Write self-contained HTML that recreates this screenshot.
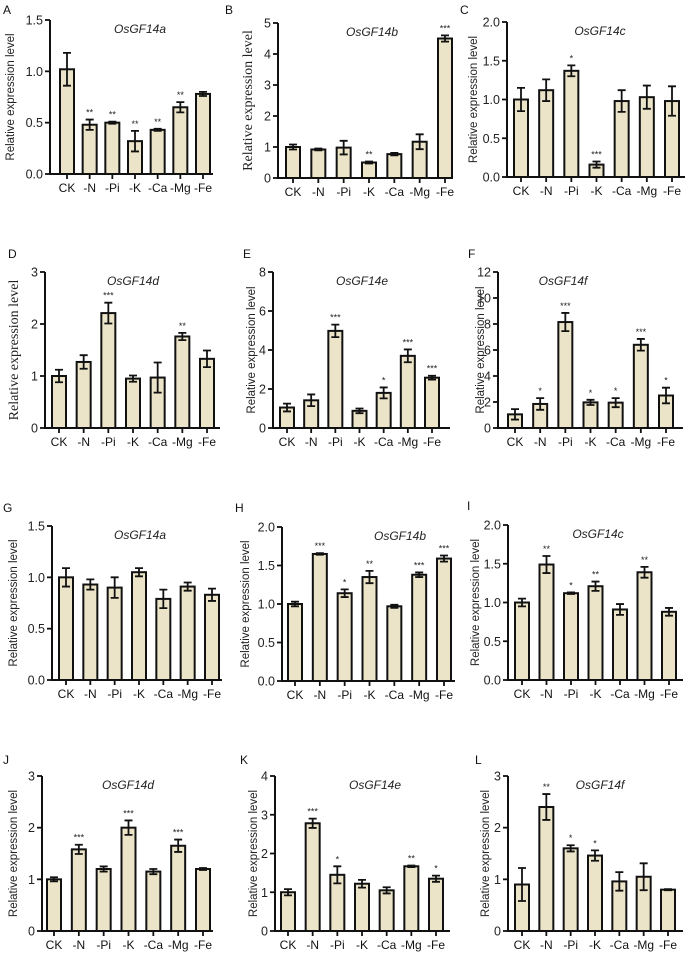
<!DOCTYPE html>
<html><head><meta charset="utf-8">
<style>
html,body{margin:0;padding:0;background:#fff;}
svg{display:block;}
</style></head>
<body>
<svg id="fig" width="685" height="958" viewBox="0 0 685 958" xmlns="http://www.w3.org/2000/svg"></svg>
<script>
const categories = ["CK","-N","-Pi","-K","-Ca","-Mg","-Fe"];
const panelLetters = ["A","B","C","D","E","F","G","H","I","J","K","L"];
const panelTitles = ["OsGF14a","OsGF14b","OsGF14c","OsGF14d","OsGF14e","OsGF14f","OsGF14a","OsGF14b","OsGF14c","OsGF14d","OsGF14e","OsGF14f"];
const valuesA = [1.02,0.48,0.50,0.32,0.43,0.65,0.78];
const errorsA = [0.16,0.05,0.01,0.10,0.01,0.05,0.02];
const sigA = ["","**","**","**","**","**",""];
const valuesB = [1.0,0.92,0.98,0.50,0.77,1.17,4.5];
const errorsB = [0.08,0.03,0.22,0.03,0.04,0.24,0.10];
const sigB = ["","","","**","","","***"];
const valuesC = [1.0,1.12,1.37,0.16,0.98,1.03,0.98];
const errorsC = [0.15,0.14,0.07,0.04,0.14,0.15,0.19];
const sigC = ["","","*","***","","",""];
const valuesD = [1.0,1.27,2.21,0.95,0.97,1.76,1.33];
const errorsD = [0.12,0.13,0.20,0.06,0.29,0.07,0.16];
const sigD = ["","","***","","","**",""];
const valuesE = [1.05,1.42,4.98,0.88,1.8,3.7,2.58];
const errorsE = [0.2,0.3,0.32,0.12,0.28,0.33,0.1];
const sigE = ["","","***","","*","***","***"];
const valuesF = [1.05,1.85,8.15,1.97,1.95,6.4,2.5];
const errorsF = [0.4,0.45,0.7,0.2,0.35,0.45,0.6];
const sigF = ["","*","***","*","*","***","*"];
const valuesG = [1.0,0.93,0.9,1.05,0.79,0.91,0.83];
const errorsG = [0.09,0.05,0.1,0.04,0.09,0.04,0.06];
const sigG = ["","","","","","",""];
const valuesH = [1.0,1.65,1.14,1.35,0.97,1.38,1.59];
const errorsH = [0.03,0.01,0.05,0.08,0.02,0.03,0.04];
const sigH = ["","***","*","**","","***","***"];
const valuesI = [1.0,1.49,1.12,1.21,0.91,1.39,0.88];
const errorsI = [0.05,0.11,0.01,0.06,0.07,0.07,0.05];
const sigI = ["","**","*","**","","**",""];
const valuesJ = [1.0,1.58,1.2,2.0,1.15,1.65,1.2];
const errorsJ = [0.04,0.09,0.05,0.14,0.05,0.12,0.02];
const sigJ = ["","***","","***","","***",""];
const valuesK = [1.0,2.78,1.45,1.22,1.05,1.67,1.35];
const errorsK = [0.08,0.12,0.22,0.1,0.08,0.02,0.08];
const sigK = ["","***","*","","","**","*"];
const valuesL = [0.9,2.4,1.6,1.46,0.96,1.05,0.8];
const errorsL = [0.32,0.25,0.06,0.1,0.18,0.26,0.01];
const sigL = ["","**","*","*","","",""];
const tickA = ["0.0","0.5","1.0","1.5"];
const tickB = ["0","1","2","3","4","5"];
const tickC = ["0.0","0.5","1.0","1.5","2.0"];
const tickD = ["0","1","2","3"];
const tickE = ["0","2","4","6","8"];
const tickF = ["0","2","4","6","8","10","12"];
const tickG = ["0.0","0.5","1.0","1.5"];
const tickH = ["0.0","0.5","1.0","1.5","2.0"];
const tickI = ["0.0","0.5","1.0","1.5","2.0"];
const tickJ = ["0","1","2","3"];
const tickK = ["0","1","2","3","4"];
const tickL = ["0","1","2","3"];

const allValues=[valuesA,valuesB,valuesC,valuesD,valuesE,valuesF,valuesG,valuesH,valuesI,valuesJ,valuesK,valuesL];
const allErrors=[errorsA,errorsB,errorsC,errorsD,errorsE,errorsF,errorsG,errorsH,errorsI,errorsJ,errorsK,errorsL];
const allSig=[sigA,sigB,sigC,sigD,sigE,sigF,sigG,sigH,sigI,sigJ,sigK,sigL];
const allTicks=[tickA,tickB,tickC,tickD,tickE,tickF,tickG,tickH,tickI,tickJ,tickK,tickL];

// layout: axisX, top, bottom, firstCenter, lastCenter, endX, ylabelX, serif, letterX, letterY, titleX
const layout=[
 [50,20,174,67,203,213,10,false,3,14,140],
 [278,23,178,293,445,453,248,true,225,14,372],
 [507,22,177,521,672,685,473,false,460,14,600],
 [45,272,428,59,207,220,14,true,8,258,133],
 [273,272,428,287,432,450,251,false,243,258,362],
 [498,272,428,515,666,683,480,false,468,258,563],
 [52,526,680,66,212,222,13,false,3,512,140],
 [282,527,681,295,444,455,245,false,235,512,400],
 [508,525,680,522,669,683,475,false,467,510,598],
 [42,776,931,54,203,213,13,false,3,764,128],
 [275,776,931,288,436,450,253,false,240,764,375],
 [508,776,931,522,668,683,485,false,475,764,600]
];
const NS="http://www.w3.org/2000/svg";
const svg=document.getElementById('fig');
function mk(tag,attrs,parent){const e=document.createElementNS(NS,tag);for(const k in attrs)e.setAttribute(k,attrs[k]);(parent||svg).appendChild(e);return e;}
const SANS='"Liberation Sans", sans-serif', SERIF='"Liberation Serif", serif';

for(let p=0;p<12;p++){
  const [ax,top,bot,c0,c6,endX,ylx,serif,lx,ly,tx]=layout[p];
  const ticks=allTicks[p];
  const ymax=parseFloat(ticks[ticks.length-1]);
  const y=v=>bot-(v/ymax)*(bot-top);
  const step=(c6-c0)/(categories.length-1);
  const x=i=>c0+i*step;
  const g=mk('g',{});
  
  
  const letter=mk('text',{x:lx,y:ly,'font-family':SANS,'font-size':12,fill:'#111'},g);
  letter.textContent=panelLetters[p];
  
  
  const title=mk('text',{x:tx,y:top+13,'font-family':SANS,'font-size':12,'font-style':'italic','text-anchor':'middle',fill:'#222'},g);
  title.textContent=panelTitles[p];
  
  
  const yl=mk('text',{x:0,y:0,transform:`translate(${ylx+4},${(top+bot)/2}) rotate(-90)`,'font-family':serif?SERIF:SANS,'font-size':serif?14:11.5,'text-anchor':'middle',fill:'#222'},g);
  yl.textContent='Relative expression level';
  
  
  // bars
  for(let i=0;i<categories.length;i++){
    const v=allValues[p][i], e=allErrors[p][i];
    const bar=mk('rect',{x:x(i)-7,y:y(v),width:14,height:bot-y(v),fill:'#ece4c8',stroke:'#111','stroke-width':2},g);
    
    
    const eb=mk('path',{d:`M${x(i)},${y(v+e)}V${y(v-e)}M${x(i)-4},${y(v+e)}H${x(i)+4}M${x(i)-4},${y(v-e)}H${x(i)+4}`,stroke:'#111','stroke-width':1.8,fill:'none'},g);
    
    
    if(allSig[p][i]){
      const s=mk('text',{x:x(i),y:y(v+e)-4,'font-family':SANS,'font-size':9,'text-anchor':'middle',fill:'#222'},g);
      s.textContent=allSig[p][i];
      
      
    }
    const xt=mk('line',{x1:x(i),x2:x(i),y1:bot,y2:bot+5,stroke:'#111','stroke-width':1.8},g);
    
    
    const xl=mk('text',{x:x(i),y:bot+18,'font-family':SANS,'font-size':12,'text-anchor':'middle',fill:'#111'},g);
    xl.textContent=categories[i];
    
    
  }
  // axes
  const axes=mk('path',{d:`M${ax},${top}V${bot}H${endX}`,stroke:'#111','stroke-width':2,fill:'none'},g);
  
  
  ticks.forEach(t=>{
    const v=parseFloat(t);
    const tl=mk('line',{x1:ax-5,x2:ax,y1:y(v),y2:y(v),stroke:'#111','stroke-width':1.8},g);
    
    
    const tt=mk('text',{x:ax-7,y:y(v)+4.5,'font-family':SANS,'font-size':12.5,'text-anchor':'end',fill:'#222'},g);
    tt.textContent=t;
    
    
  });
}
</script>
</body></html>
